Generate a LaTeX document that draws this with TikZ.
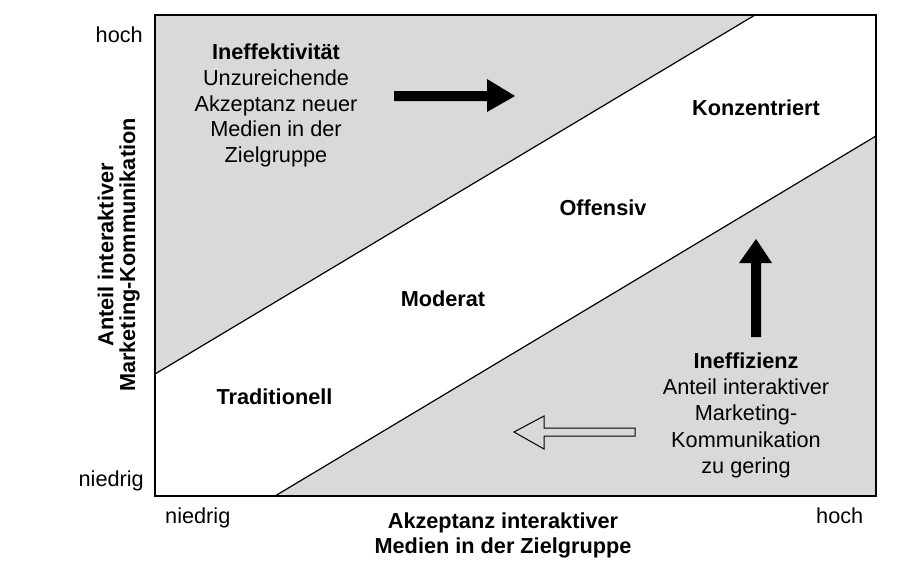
\documentclass[tikz,border=0pt]{standalone}
\usepackage{fontspec}
\setmainfont{Liberation Sans}
\begin{document}
\begin{tikzpicture}[x=1pt,y=-1pt,
  txt/.style={font=\fontsize{21.7}{25.5}\selectfont, inner sep=0pt, anchor=base},
  btxt/.style={txt, font=\fontsize{21.7}{25.5}\selectfont\bfseries},
  region/.style={fill=black!15, draw=none},
  divider/.style={draw=black, line width=1.2pt},
  frame/.style={draw=black, line width=1.8pt},
  solidarrow/.style={fill=black, draw=none},
  hollowarrow/.style={draw=black, line width=1pt, fill=black!15},
]
\useasboundingbox (0,0) rectangle (920,584);
% corners and diagonal end points
\coordinate (TL) at (155,15);
\coordinate (TR) at (876,15);
\coordinate (BR) at (876,496);
\coordinate (BL) at (155,496);
\coordinate (u1) at (155,374);
\coordinate (u2) at (755,15);
\coordinate (l1) at (275,496);
\coordinate (l2) at (876,136);
% regions
\fill[white] (TL) rectangle (BR);
\fill[region] (TL) -- (u2) -- (u1) -- cycle;
\fill[region] (l1) -- (l2) -- (BR) -- cycle;
\draw[divider] (u1) -- (u2);
\draw[divider] (l1) -- (l2);
\draw[frame] (TL) rectangle (BR);
% arrows
\fill[solidarrow] (394,91) -- (487,91) -- (487,79) -- (515,96) -- (487,112) -- (487,101) -- (394,101) -- cycle;
\fill[solidarrow] (751,337) -- (751,263) -- (739,263) -- (756,239) -- (772,263) -- (761,263) -- (761,337) -- cycle;
\draw[hollowarrow] (635,428) -- (544,428) -- (544,416) -- (514,432) -- (544,449) -- (544,436) -- (635,436) -- cycle;
% axis tick labels
\node[txt, anchor=east] (yhigh) at (143,35) {hoch};
\node[txt, anchor=east] (ylow) at (144,480.7) {niedrig};
\node[txt, anchor=base west] (xlow) at (165,523.5) {niedrig};
\node[txt, anchor=base west] (xhigh) at (816,523.5) {hoch};
% axis titles
\node[btxt] (xt1) at (503,528) {Akzeptanz interaktiver};
\node[btxt] (xt2) at (503,553) {Medien in der Zielgruppe};
\node[btxt, rotate=90] (yt1) at (113.3,255) {Anteil interaktiver};
\node[btxt, rotate=90] (yt2) at (135,255) {Marketing-Kommunikation};
% region labels
\node[btxt] (ineffekt) at (276,59.5) {Ineffektivität};
\node[txt] (ia) at (276,85.3) {Unzureichende};
\node[txt] (ib) at (276,111.1) {Akzeptanz neuer};
\node[txt] (ic) at (276,136.9) {Medien in der};
\node[txt] (id) at (276,162.7) {Zielgruppe};
\node[btxt] (konz) at (756,115) {Konzentriert};
\node[btxt] (off) at (603,215.5) {Offensiv};
\node[btxt] (mod) at (443,306.5) {Moderat};
\node[btxt] (trad) at (274.5,404) {Traditionell};
\node[btxt] (ineffiz) at (746,368.5) {Ineffizienz};
\node[txt] (ea) at (746,394.5) {Anteil interaktiver};
\node[txt] (eb) at (746,420.8) {Marketing-};
\node[txt] (ec) at (746,447.1) {Kommunikation};
\node[txt] (ed) at (746,473.4) {zu gering};
\end{tikzpicture}
\end{document}
